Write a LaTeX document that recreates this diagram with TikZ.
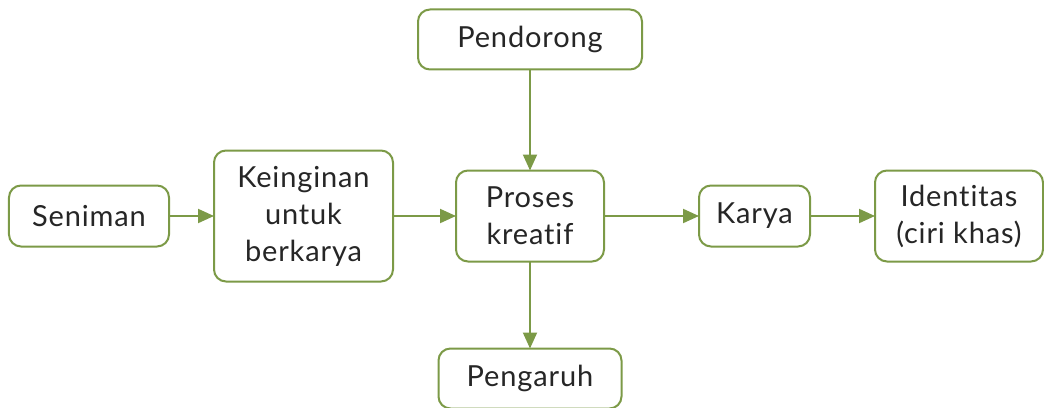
\documentclass[tikz,border=0pt]{standalone}
\usepackage{fontspec}
\setmainfont{Lato}[Ligatures={NoCommon,NoRare,NoContextual},LetterSpace=3]
\usepackage{tikz}
\usetikzlibrary{arrows.meta,positioning}
\definecolor{ksGreen}{HTML}{7C9A47}
\definecolor{ksText}{HTML}{262626}
\newcommand{\ksFigMain}{\fontsize{14.5}{18.5}\selectfont}
\tikzset{
  %% every stage of the chain is the same rounded box; only its size differs
  ksbox/.style={
    rounded corners=6pt, draw=ksGreen, line width=1pt, fill=white,
    inner sep=2pt, outer sep=0pt, align=center, font=\ksFigMain,
    text=ksText},
  ksflow/.style={-{Triangle[length=8pt,width=7pt]}, draw=ksGreen,
    line width=1pt},
}

\begin{document}
\begin{tikzpicture}

%% --- frame: the bottom box runs off the lower edge ----------------
\useasboundingbox (-44.5pt,-95.5pt) rectangle (477.5pt,108pt);
\clip (-44.5pt,-95.5pt) rectangle (477.5pt,108pt);

%% --- main chain (left to right) -----------------------------------
\node[ksbox, minimum width=80pt, minimum height=30.5pt] (seniman) {Seniman};

\node[ksbox, minimum width=89.5pt, minimum height=65.5pt,
      right=22.5pt of seniman] (keinginan)
  {Keinginan\\untuk\\berkarya};

\node[ksbox, minimum width=74pt, minimum height=45.5pt,
      right=31.5pt of keinginan] (proses)
  {Proses\\kreatif};

\node[ksbox, minimum width=55.5pt, minimum height=30.5pt,
      right=47.5pt of proses] (karya) {Karya};

\node[ksbox, minimum width=84pt, minimum height=45.5pt,
      right=32.5pt of karya] (identitas)
  {Identitas\\(ciri khas)};

%% --- above and below the creative process -------------------------
\node[ksbox, minimum width=112pt, minimum height=30pt,
      above=50.5pt of proses] (pendorong) {Pendorong};

\node[ksbox, minimum width=91.5pt, minimum height=30pt,
      below=43.5pt of proses] (pengaruh) {Pengaruh};

\draw[ksflow] (seniman)   -- (keinginan);
\draw[ksflow] (keinginan) -- (proses);
\draw[ksflow] (proses)    -- (karya);
\draw[ksflow] (karya)     -- (identitas);
\draw[ksflow] (pendorong) -- (proses);
\draw[ksflow] (proses)    -- (pengaruh);

\end{tikzpicture}
\end{document}
